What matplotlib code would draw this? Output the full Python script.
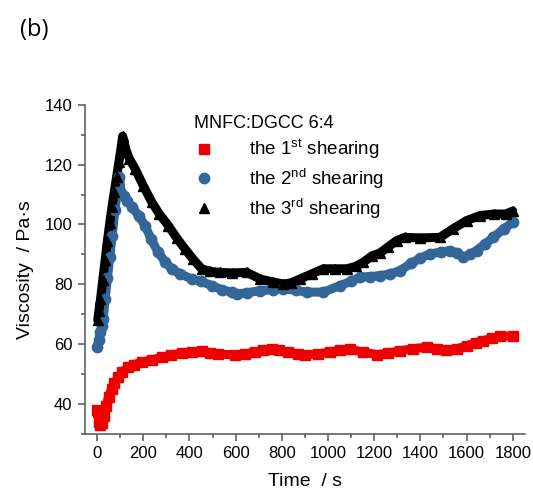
import matplotlib
matplotlib.use("Agg")
import matplotlib.pyplot as plt
from matplotlib.ticker import MultipleLocator

plt.rcParams["font.family"] = ["Liberation Sans", "DejaVu Sans"]
plt.rcParams["mathtext.fontset"] = "custom"
plt.rcParams["mathtext.rm"] = "Liberation Sans"
plt.rcParams["mathtext.it"] = "Liberation Sans:italic"

# 1st shearing
t1 = [0, 5, 10, 15, 22, 30, 40, 50, 63, 75, 92, 110, 136, 160, 193, 240, 280,
      320, 367, 410, 453, 490, 525, 597, 640, 684, 720, 756, 790, 828, 870,
      900, 958, 1009, 1050, 1095, 1150, 1211, 1260, 1312, 1370, 1427, 1470,
      1513, 1560, 1600, 1640, 1672, 1710, 1745, 1800]
v1 = [38, 37.5, 34, 33, 33.5, 36, 39.5, 42.5, 45, 47, 49, 50.8, 52.3, 53.2,
      54, 54.8, 55.6, 56.3, 57, 57.4, 57.6, 57.2, 56.7, 56.4, 56.8, 57.3, 58,
      58.4, 58, 57.3, 56.8, 56.5, 56.7, 57.4, 58, 58.3, 57.4, 56.5, 57, 57.8,
      58.5, 59, 58.5, 58, 58.5, 59.5, 60.5, 61.2, 62, 62.6, 62.7]

# 2nd shearing
t2 = [1, 8, 15, 21, 27, 35, 45, 55, 65, 78, 88, 97, 105, 115, 130, 150, 180,
      208, 235, 265, 295, 323, 360, 410, 450, 497, 540, 583, 605, 650, 706,
      760, 806, 860, 908, 980, 1052, 1100, 1139, 1180, 1225, 1270, 1312, 1360,
      1400, 1442, 1490, 1528, 1560, 1586, 1615, 1643, 1680, 1716, 1760, 1800]
v2 = [59, 61.5, 64, 66, 68.4, 75, 82, 89, 96, 105, 111, 116, 110.5, 109.5,
      108, 106, 103, 99.6, 95, 90.7, 87.5, 85.2, 83.5, 81.8, 81, 79.6, 78.2,
      77.4, 76.8, 77.2, 77.9, 78.2, 78.5, 78, 77.4, 77.4, 79.6, 81, 82.4,
      82.6, 82.9, 83.5, 84.6, 87, 88.8, 90.2, 90.8, 91.3, 90.5, 89, 90, 91.3,
      93.5, 95.7, 98.5, 100.7]

# 3rd shearing
t3 = [3, 8, 15, 25, 35, 45, 55, 65, 75, 85, 95, 103, 111, 125, 140, 165, 200,
      237, 270, 309, 345, 381, 415, 453, 490, 532, 583, 648, 706, 760, 806,
      840, 879, 930, 980, 1030, 1081, 1120, 1153, 1190, 1225, 1260, 1297,
      1333, 1400, 1485, 1540, 1600, 1658, 1720, 1770, 1800]
v3 = [68, 71, 75, 81.5, 88, 94.5, 100.5, 106, 111, 116, 121, 125, 129.5, 125,
      122, 118.6, 113, 107.5, 103.5, 99.6, 95.5, 91.8, 88.5, 85.2, 84.3, 84,
      83.8, 84, 81.8, 80.8, 80.1, 80.5, 81.8, 83.5, 85.2, 85.2, 85.2, 86,
      87.4, 89.5, 90.5, 92.5, 94.6, 95.7, 95.5, 95.7, 98.5, 101.3, 103, 103.5,
      103.5, 104.5]

series = [
    (t1, v1, "#ee0000", "s", r"the 1$^{\rm st}$ shearing"),
    (t2, v2, "#336699", "o", r"the 2$^{\rm nd}$ shearing"),
    (t3, v3, "#000000", "^", r"the 3$^{\rm rd}$ shearing"),
]

fig = plt.figure(figsize=(5.33, 4.92), dpi=100)
ax = fig.add_axes([0.1595, 0.118, 0.8255, 0.669])

for t, v, color, marker, label in series:
    ax.plot(t, v, color=color, lw=6.5, solid_capstyle="round",
            solid_joinstyle="round", zorder=2)
    ax.plot(t, v, ls="none", marker=marker, ms=7.5, color=color, mec=color,
            zorder=3, label=label)

ax.set_xlim(-52, 1853)
ax.set_ylim(30, 140)
ax.xaxis.set_major_locator(MultipleLocator(200))
ax.xaxis.set_minor_locator(MultipleLocator(100))
ax.yaxis.set_major_locator(MultipleLocator(20))
ax.yaxis.set_minor_locator(MultipleLocator(10))
ax.set_xticks(range(0, 1801, 200))

for side in ("top", "right"):
    ax.spines[side].set_visible(False)
for side in ("left", "bottom"):
    ax.spines[side].set_color("#555555")
    ax.spines[side].set_linewidth(1.1)

ax.tick_params(which="major", direction="out", length=5, width=1.1,
               color="#555555", labelsize=12, pad=4)
ax.tick_params(which="minor", direction="out", length=3, width=1.1,
               color="#555555")

ax.set_xlabel("Time  / s", fontsize=14, labelpad=8.5)
ax.set_ylabel("Viscosity  / Pa·s", fontsize=14, labelpad=8)

leg = ax.legend(loc="upper left", bbox_to_anchor=(0.21, 1.02), frameon=False,
                title="MNFC:DGCC 6:4", title_fontsize=13, fontsize=13.5,
                numpoints=1, handlelength=1.0, handletextpad=1.9,
                labelspacing=0.3, alignment="left")

fig.text(0.037, 0.927, "(b)", fontsize=17, family=["Open Sans", "DejaVu Sans"])

fig.savefig("out.png", dpi=100)
